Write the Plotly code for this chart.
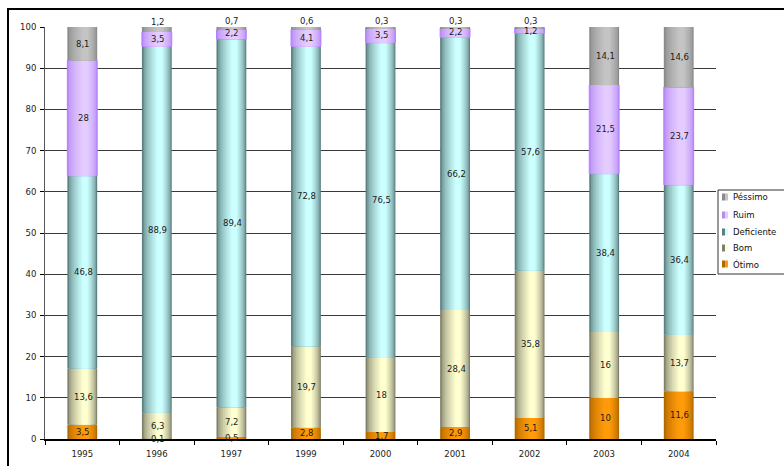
import plotly.graph_objects as go

cats = ["1995", "1996", "1997", "1999", "2000", "2001", "2002", "2003", "2004"]
otimo = [3.5, 0.1, 0.5, 2.8, 1.7, 2.9, 5.1, 10, 11.6]
bom = [13.6, 6.3, 7.2, 19.7, 18, 28.4, 35.8, 16, 13.7]
deficiente = [46.8, 88.9, 89.4, 72.8, 76.5, 66.2, 57.6, 38.4, 36.4]
ruim = [28, 3.5, 2.2, 4.1, 3.5, 2.2, 1.2, 21.5, 23.7]
pessimo = [8.1, 1.2, 0.7, 0.6, 0.3, 0.3, 0.3, 14.1, 14.6]

series_names = ["Ótimo", "Bom", "Deficiente", "Ruim", "Péssimo"]
series_vals = [otimo, bom, deficiente, ruim, pessimo]
# (edge colour, peak colour) of each cylinder shading
shades = [
    ("#b06800", "#ff9b0a"),
    ("#80806a", "#ffffd0"),
    ("#5a8080", "#ccffff"),
    ("#b98cf5", "#e4ccff"),
    ("#8a8a8a", "#c4c4c4"),
]

FONT = "DejaVu Sans"
W = 0.40
K = 10
WIDTH, HEIGHT = 784, 466
ML, MR, MT, MB = 45, 68, 27, 27
PW, PH = WIDTH - ML - MR, HEIGHT - MT - MB


def px(x):
    return (x - ML) / PW


def py(y):
    return (HEIGHT - MB - y) / PH


def hex2rgb(h):
    h = h.lstrip("#")
    return tuple(int(h[i:i + 2], 16) for i in (0, 2, 4))


def mix(c1, c2, f):
    a, b = hex2rgb(c1), hex2rgb(c2)
    return "rgb(%d,%d,%d)" % tuple(round(x + (y - x) * f) for x, y in zip(a, b))


fig = go.Figure()
cum = [0.0] * len(cats)
annotations = []
for name, vals, (edge, peak) in zip(series_names, series_vals, shades):
    base = list(cum)
    for i in range(K):
        t = i / K
        left = -W / 2 + t * 0.55 * W
        right = W / 2 - t * 0.35 * W
        f = (i / (K - 1)) ** 0.6
        if name == "Ruim" and i == 0:
            kw = dict(marker_line_color="#b080ff", marker_line_width=1)
        else:
            kw = dict(marker_line_width=0)
        fig.add_trace(go.Bar(
            x=cats, y=vals, base=base, width=right - left, offset=left,
            marker_color=mix(edge, peak, f), name=name,
            showlegend=False, hoverinfo="skip", **kw))
    for j, v in enumerate(vals):
        ys = 0
        if name == "Péssimo" and v < 1.5:
            ys = 7
        elif name == "Ruim" and 2 <= v < 2.5:
            ys = 1
        annotations.append(dict(
            x=j, y=base[j] + v / 2, text=f"{v:g}".replace(".", ","),
            showarrow=False, yshift=ys, xshift=1,
            font=dict(family=FONT, size=8.5, color="#1a1a1a")))
    cum = [c + v for c, v in zip(cum, vals)]

# custom legend (top entry = last stacked series)
shapes = [dict(type="rect", xref="paper", yref="paper",
               x0=px(8), x1=px(800), y0=py(520), y1=py(9),
               line=dict(color="#000", width=2), layer="below"),
          dict(type="rect", xref="paper", yref="paper",
               x0=px(718), x1=px(800), y0=py(274), y1=py(190),
               line=dict(color="#333", width=1), fillcolor="white", layer="above")]
leg_y = [264, 248, 232, 215, 197]
for name, (edge, peak), yc in zip(series_names, shades, leg_y):
    shapes.append(dict(type="rect", xref="paper", yref="paper",
                       x0=px(722), x1=px(725), y0=py(yc + 3.5), y1=py(yc - 3.5),
                       line=dict(width=0), fillcolor=edge, layer="above"))
    shapes.append(dict(type="rect", xref="paper", yref="paper",
                       x0=px(725), x1=px(728), y0=py(yc + 3.5), y1=py(yc - 3.5),
                       line=dict(width=0), fillcolor=peak, layer="above"))
    annotations.append(dict(xref="paper", yref="paper", x=px(731), y=py(yc),
                            xanchor="left", yanchor="middle", text=name,
                            showarrow=False,
                            font=dict(family=FONT, size=8.5, color="#111")))

fig.update_layout(
    barmode="overlay",
    width=WIDTH, height=HEIGHT,
    margin=dict(l=ML, r=MR, t=MT, b=MB, autoexpand=False),
    paper_bgcolor="white", plot_bgcolor="white",
    annotations=annotations,
    shapes=shapes,
    showlegend=False,
    font=dict(family=FONT, size=8.5, color="#222"),
    xaxis=dict(
        type="category", categoryorder="array", categoryarray=cats,
        range=[-0.5, len(cats) - 0.5], showgrid=False, ticks="outside",
        tickson="boundaries", tickangle=0, ticklabelstandoff=6,
        ticklen=4, tickcolor="#000", showline=True, linecolor="#000", linewidth=1.5,
        tickfont=dict(family=FONT, size=8.5, color="#222")),
    yaxis=dict(
        range=[0, 100], dtick=10, showgrid=True, gridcolor="#3a3a3a", gridwidth=1,
        ticks="outside", ticklen=4, tickcolor="#000", showline=True,
        linecolor="#555", linewidth=1, zeroline=False, ticklabelstandoff=2,
        tickfont=dict(family=FONT, size=8.5, color="#222")),
)

fig.write_html("out.html")
